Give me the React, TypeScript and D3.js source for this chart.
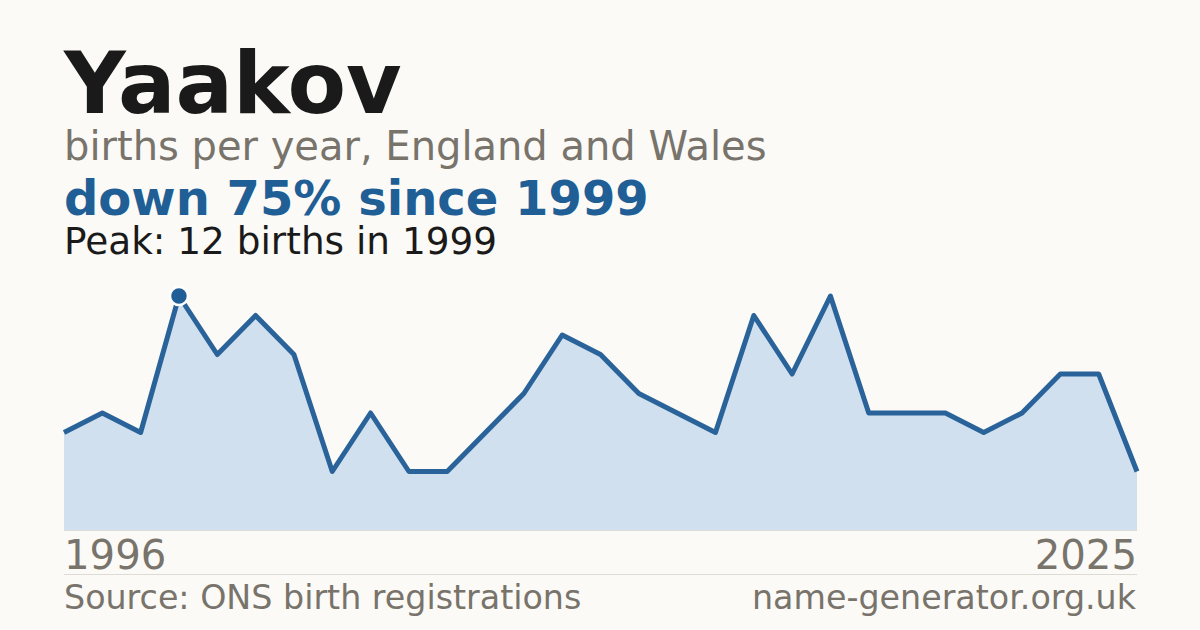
import React from "react";
import * as d3 from "d3";

const years = [1996, 1997, 1998, 1999, 2000, 2001, 2002, 2003, 2004, 2005, 2006, 2007, 2008, 2009, 2010, 2011, 2012, 2013, 2014, 2015, 2016, 2017, 2018, 2019, 2020, 2021, 2022, 2023, 2025];
const births = [5, 6, 5, 12, 9, 11, 9, 3, 6, 3, 3, 5, 7, 10, 9, 7, 6, 5, 11, 8, 12, 6, 6, 6, 5, 6, 8, 8, 3];

const title = "Yaakov";
const subtitle = "births per year, England and Wales";
const source = "Source: ONS birth registrations";
const site = "name-generator.org.uk";

const W = 1200;
const H = 630;
const FONT = "'DejaVu Sans', sans-serif";
const BG = "#fbfaf6";
const BLUE = "#1f5f96";
const GREY = "#78736b";

export default function App() {
  if (typeof document !== "undefined") {
    document.body.style.margin = "0";
    document.body.style.background = BG;
  }
  const data = years.map((y, i) => ({ year: y, v: births[i] }));
  const x = d3.scalePoint<number>().domain(years).range([64, 1137]);
  const y = d3.scaleLinear().domain([0, 12]).range([530, 296]);

  const peakIdx = births.indexOf(d3.max(births) as number);
  const peak = data[peakIdx];
  const last = data[data.length - 1];
  const change = Math.round(((last.v - peak.v) / peak.v) * 100);
  const headline = `${change < 0 ? "down" : "up"} ${Math.abs(change)}% since ${peak.year}`;

  const area = d3
    .area<{ year: number; v: number }>()
    .x((d) => x(d.year) as number)
    .y0(y(0))
    .y1((d) => y(d.v));
  const line = d3
    .line<{ year: number; v: number }>()
    .x((d) => x(d.year) as number)
    .y((d) => y(d.v));

  return (
    <svg width={W} height={H} viewBox={`0 0 ${W} ${H}`} style={{ display: "block", background: BG }} fontFamily={FONT}>
      <rect x={0} y={0} width={W} height={H} fill={BG} />
      <text x={64} y={113} fontSize={85.3} fontWeight="bold" fill="#1a1a1a">{title}</text>
      <text x={64} y={160} fontSize={40} fill={GREY}>{subtitle}</text>
      <text x={64} y={215} fontSize={48} fontWeight="bold" fill={BLUE}>{headline}</text>
      <text x={64} y={254} fontSize={37.4} fill="#1a1a1a">{`Peak: ${peak.v} births in ${peak.year}`}</text>

      <path d={area(data) as string} fill="#d0e0ef" />
      <line x1={64} x2={1137} y1={530.5} y2={530.5} stroke="#dcdcdc" strokeWidth={1} />
      <path d={line(data) as string} fill="none" stroke="#2a6399" strokeWidth={5} strokeLinejoin="round" />
      <circle cx={x(peak.year) as number} cy={y(peak.v)} r={9} fill={BLUE} stroke="#ffffff" strokeWidth={2.5} />

      <text x={64} y={569} fontSize={40.2} fill={GREY}>{years[0]}</text>
      <text x={1137} y={569} fontSize={40.2} fill={GREY} textAnchor="end">{years[years.length - 1]}</text>
      <line x1={64} x2={1137} y1={574.5} y2={574.5} stroke="#dedbd4" strokeWidth={1} />
      <text x={64} y={609} fontSize={33.3} fill={GREY}>{source}</text>
      <text x={1136} y={609} fontSize={33.3} fill={GREY} textAnchor="end">{site}</text>
    </svg>
  );
}
